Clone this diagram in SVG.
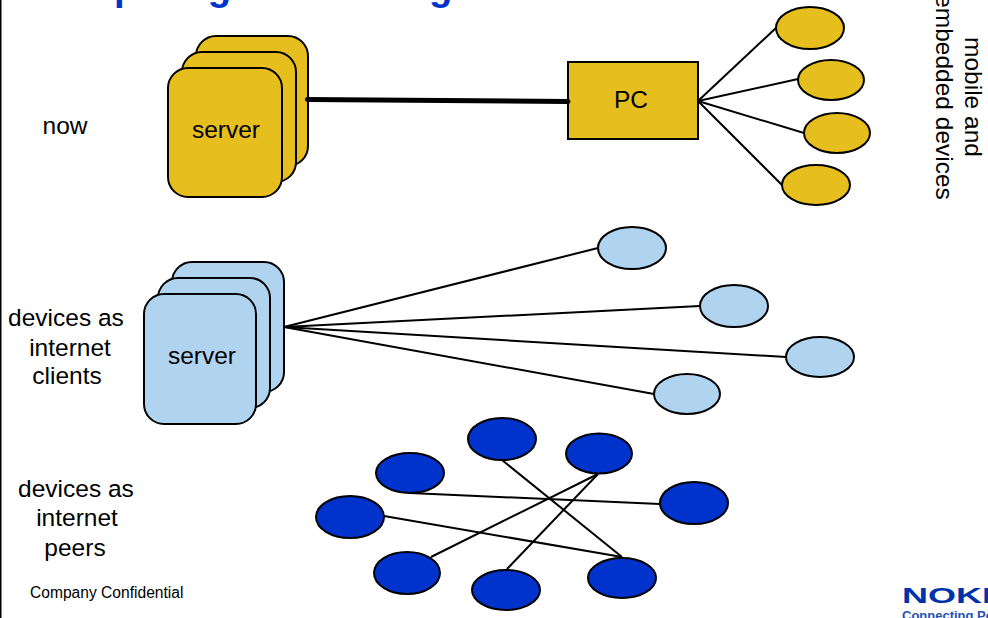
<svg xmlns="http://www.w3.org/2000/svg" width="988" height="618" viewBox="0 0 988 618">
<style>
text{font-family:"Liberation Sans",Arial,sans-serif;fill:#000}
.l{font-size:24.5px;text-anchor:middle}
.y{fill:#E6BF1E;stroke:#000;stroke-width:2}
.b{fill:#B0D4F0;stroke:#000;stroke-width:2}
.d{fill:#0033CC;stroke:#000;stroke-width:2}
#connectors line{stroke:#000;stroke-width:2}
</style>
<rect width="988" height="618" fill="#fff"/>
<rect x="0" y="0" width="1.5" height="618" fill="#000"/>
<text id="title" x="29" y="0.3" style="font-size:38.3px;font-weight:bold;fill:#0033CC">Computing on the fringes of the network</text>
<g id="connectors">
<line x1="698" y1="101" x2="777" y2="27"/>
<line x1="698" y1="101" x2="798" y2="79"/>
<line x1="698" y1="101" x2="804" y2="133"/>
<line x1="698" y1="101" x2="782" y2="185"/>
<line x1="284" y1="327" x2="598" y2="248"/>
<line x1="284" y1="327" x2="700" y2="306"/>
<line x1="284" y1="327" x2="786" y2="357"/>
<line x1="284" y1="327" x2="654" y2="394"/>
<line x1="502" y1="460" x2="622" y2="557"/>
<line x1="410" y1="493" x2="660" y2="504"/>
<line x1="384" y1="516" x2="622" y2="557"/>
<line x1="598" y1="474" x2="431" y2="557"/>
<line x1="598" y1="474" x2="507" y2="569"/>
</g>
<g id="server1">
<rect class="y" x="196" y="36" width="112" height="130" rx="20"/>
<rect class="y" x="182" y="52" width="114" height="130" rx="20"/>
<rect class="y" x="168" y="68" width="114" height="129" rx="20"/>
<text class="l" x="226" y="138">server</text>
</g>
<g id="pc"><rect class="y" x="568" y="62" width="130" height="77"/><text class="l" x="631" y="108">PC</text></g>
<line id="link" x1="307.500" y1="99.500" x2="568" y2="101.500" style="stroke:#000;stroke-width:5;stroke-linecap:round"/>
<g id="y1"><ellipse class="y" cx="810" cy="28" rx="34" ry="21"/></g>
<g id="y2"><ellipse class="y" cx="831" cy="80" rx="33" ry="20"/></g>
<g id="y3"><ellipse class="y" cx="837" cy="133" rx="33" ry="20"/></g>
<g id="y4"><ellipse class="y" cx="816" cy="185" rx="34" ry="20"/></g>
<g id="server2">
<rect class="b" x="172" y="262" width="112" height="130" rx="20"/>
<rect class="b" x="158" y="278" width="112" height="130" rx="20"/>
<rect class="b" x="144" y="294" width="112" height="130" rx="20"/>
<text class="l" x="202" y="364">server</text>
</g>
<g id="b1"><ellipse class="b" cx="632" cy="248" rx="34" ry="21"/></g>
<g id="b2"><ellipse class="b" cx="734" cy="306" rx="34" ry="21"/></g>
<g id="b3"><ellipse class="b" cx="820" cy="357" rx="34" ry="20"/></g>
<g id="b4"><ellipse class="b" cx="687" cy="394" rx="33" ry="20"/></g>
<g id="d1"><ellipse class="d" cx="502" cy="439" rx="34" ry="21"/></g>
<g id="d2"><ellipse class="d" cx="599" cy="453.500" rx="33" ry="20"/></g>
<g id="d3"><ellipse class="d" cx="410" cy="473" rx="34" ry="20"/></g>
<g id="d4"><ellipse class="d" cx="694" cy="503" rx="34" ry="21"/></g>
<g id="d5"><ellipse class="d" cx="350" cy="517" rx="34" ry="21"/></g>
<g id="d6"><ellipse class="d" cx="407" cy="573" rx="33" ry="21"/></g>
<g id="d7"><ellipse class="d" cx="622" cy="578" rx="34" ry="20"/></g>
<g id="d8"><ellipse class="d" cx="506" cy="590" rx="34" ry="20"/></g>
<text class="l" x="65" y="134">now</text>
<text class="l" x="66" y="326">devices as</text>
<text class="l" x="70" y="356">internet</text>
<text class="l" x="67" y="384">clients</text>
<text class="l" x="76" y="497">devices as</text>
<text class="l" x="77" y="526">internet</text>
<text class="l" x="75" y="556">peers</text>
<text x="30" y="598" style="font-size:15.6px">Company Confidential</text>
<text class="l" transform="translate(965 97) rotate(90)">mobile and</text>
<text class="l" transform="translate(936 97) rotate(90)">embedded devices</text>
<g id="logo">
<text x="902" y="603" style="font-size:22px;font-weight:bold;fill:#0033AA" textLength="116" lengthAdjust="spacingAndGlyphs">NOKIA</text>
<text x="902" y="619.500" style="font-size:13px;font-weight:bold;fill:#2850B0">Connecting People</text>
</g>
</svg>
